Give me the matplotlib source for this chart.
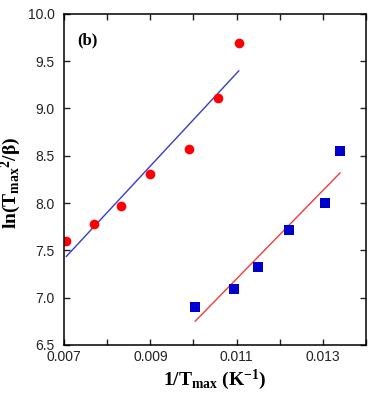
import numpy as np
import matplotlib
matplotlib.use('Agg')
import matplotlib.pyplot as plt
from matplotlib.ticker import MultipleLocator, FuncFormatter

plt.rcParams['font.family'] = 'Liberation Sans'
plt.rcParams['mathtext.fontset'] = 'custom'
plt.rcParams['mathtext.rm'] = 'Liberation Serif:bold'
plt.rcParams['mathtext.bf'] = 'Liberation Serif:bold'
plt.rcParams['mathtext.it'] = 'Liberation Serif:bold'

# red circles with blue fit
x_circ = [0.00705, 0.0077, 0.00833, 0.0090, 0.0099, 0.01056, 0.01105]
y_circ = [7.60, 7.78, 7.97, 8.31, 8.57, 9.11, 9.69]

# blue squares with red fit
x_sq = [0.01004, 0.01093, 0.01149, 0.01222, 0.01304, 0.0134]
y_sq = [6.90, 7.09, 7.32, 7.72, 8.00, 8.55]

fig = plt.figure(figsize=(3.73, 3.96), dpi=100)
ax = fig.add_axes([0.172, 0.129, 0.809, 0.836])

# linear fits
p1 = np.polyfit(x_circ, y_circ, 1)
xf1 = np.array([min(x_circ), max(x_circ)])
ax.plot(xf1, np.polyval(p1, xf1), color='#3a3acc', linewidth=1.0)

p2 = np.polyfit(x_sq, y_sq, 1)
xf2 = np.array([min(x_sq), max(x_sq)])
ax.plot(xf2, np.polyval(p2, xf2), color='#f03c3c', linewidth=1.0)

ax.plot(x_circ, y_circ, 'o', color='#ff0000', markersize=7, markeredgewidth=0)
ax.plot(x_sq, y_sq, 's', color='#0000cc', markersize=7, markeredgewidth=0)

ax.set_xlim(0.007, 0.014)
ax.set_ylim(6.5, 10.0)
ax.xaxis.set_major_locator(MultipleLocator(0.001))
ax.xaxis.set_major_formatter(FuncFormatter(
    lambda v, p: '%.3f' % v if round(v * 1000) % 2 == 1 else ''))
ax.yaxis.set_major_locator(MultipleLocator(0.5))
ax.yaxis.set_major_formatter(FuncFormatter(lambda v, p: '%.1f' % v))

ax.tick_params(direction='in', top=True, right=True, length=4, width=1.0,
               labelsize=10, colors='#222222')
ax.tick_params(axis='x', pad=4)
ax.tick_params(axis='y', pad=7)
for s in ax.spines.values():
    s.set_linewidth(1.1)

ax.set_xlabel(r'1/T$_{\mathbf{max}}$ (K$^{\mathbf{-1}}$)', family='Liberation Serif',
              fontweight='bold', fontsize=14, labelpad=2)
ax.set_ylabel(r'ln(T$_{\mathbf{max}}$$^{\mathbf{2}}$/β)', family='Liberation Serif',
              fontweight='bold', fontsize=14, labelpad=2)
ax.yaxis.set_label_coords(-0.135, 0.49)

ax.text(0.043, 0.92, '(b)', transform=ax.transAxes, family='Liberation Serif',
        fontweight='bold', fontsize=12, va='center', ha='left')

fig.savefig('out.png', dpi=100)
